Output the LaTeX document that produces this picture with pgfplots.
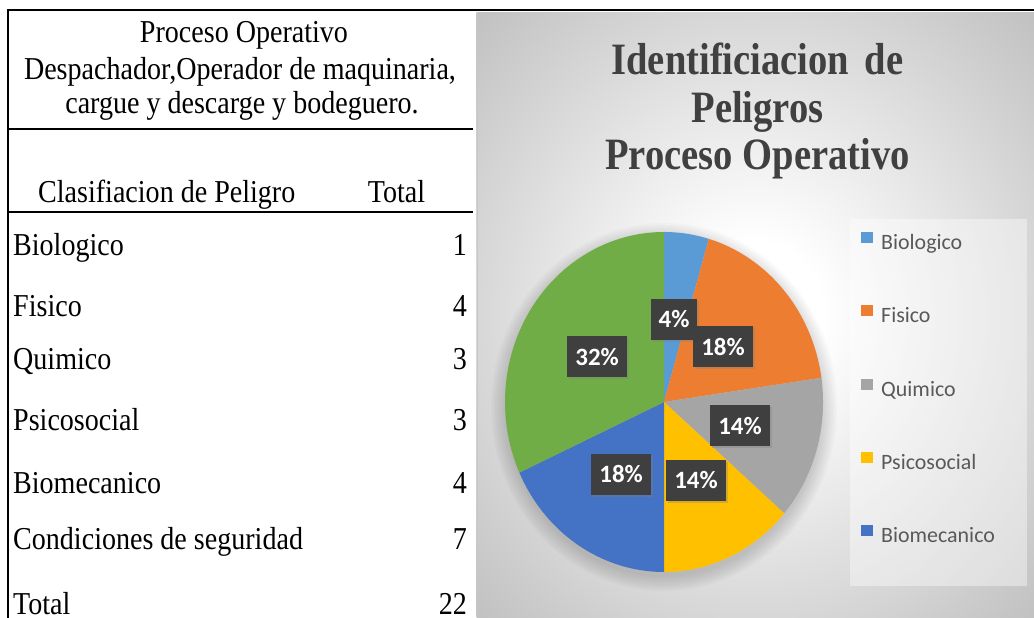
\documentclass[border=0pt]{standalone}
\usepackage{fontspec}
\usepackage{pgfplots}
\pgfplotsset{compat=1.18}
\usetikzlibrary{shadows}
\newfontfamily\tnr[FakeStretch=0.88]{Liberation Serif}
\newfontfamily\ttl[FakeStretch=0.86]{Liberation Serif}
\newfontfamily\carl{Carlito}
\definecolor{cBio}{HTML}{5B9BD5}
\definecolor{cFis}{HTML}{ED7D31}
\definecolor{cQui}{HTML}{A5A5A5}
\definecolor{cPsi}{HTML}{FFC000}
\definecolor{cBme}{HTML}{4472C4}
\definecolor{cCon}{HTML}{70AD47}
\definecolor{titlegray}{HTML}{404040}
\definecolor{leggray}{HTML}{595959}
\definecolor{lblgray}{HTML}{3F3F3F}
\pgfdeclareradialshading{chartbg}{\pgfpoint{0bp}{0bp}}{color(0bp)=(white); color(6bp)=(white); color(35bp)=(black!24); color(50bp)=(black!24)}
\newcommand{\pieslice}[3]{\addplot[fill=#3, draw=none, domain={90-360*(#1+#2)/22}:{90-360*(#1)/22}, samples=90, variable=\t] ({cos(\t)},{sin(\t)}) -- (axis cs:0,0) -- cycle;}
\begin{document}
\begin{tikzpicture}[
  lbl/.style={fill=lblgray, text=white, font=\carl\bfseries\fontsize{25}{25}\selectfont, minimum height=41bp, inner xsep=8bp, inner ysep=0pt, drop shadow={shadow xshift=2bp, shadow yshift=-2bp, opacity=0.35}}]
\begin{scope}[x=1bp,y=1bp]
\useasboundingbox (0,0) rectangle (1034,618);
% chart area background
\shade[shading=chartbg] (476.5,0) rectangle (1034,605.3);
\draw[black!22, line width=0.8bp] (476.9,0) -- (476.9,605.3);
% legend background
\fill[white, opacity=0.4] (850,32) rectangle (1027,399);
% soft pie shadow
\foreach \r in {16,14,12,10,8,6,4,2}{
  \fill[black, opacity=0.018] (664,211) ellipse [x radius=157+\r, y radius=168+\r];
}
% table lines
\draw[black, line width=2bp] (8,607.5) -- (1034,607.5);
\draw[black, line width=2bp] (8.3,608.5) -- (8.3,0);
\draw[black, line width=2bp] (8,489) -- (473,489);
\draw[black, line width=2bp] (8,406) -- (473,406);
% table text
\begin{scope}[every node/.style={inner sep=0pt, font=\tnr\fontsize{32}{36}\selectfont}]
\node[anchor=base] at (244,575.3) {Proceso Operativo};
\node[anchor=base] at (240,538.7) {Despachador,Operador de maquinaria,};
\node[anchor=base] at (242,504.7) {cargue y descarge y bodeguero.};
\node[anchor=base west] at (38,415) {Clasifiacion de Peligro};
\node[anchor=base] at (396.5,415) {Total};
\node[anchor=base west] at (13,362) {Biologico};
\node[anchor=base east] at (467,362) {1};
\node[anchor=base west] at (13,301.3) {Fisico};
\node[anchor=base east] at (467,301.3) {4};
\node[anchor=base west] at (13,248) {Quimico};
\node[anchor=base east] at (467,248) {3};
\node[anchor=base west] at (13,187.3) {Psicosocial};
\node[anchor=base east] at (467,187.3) {3};
\node[anchor=base west] at (13,124) {Biomecanico};
\node[anchor=base east] at (467,124) {4};
\node[anchor=base west] at (13,68) {Condiciones de seguridad};
\node[anchor=base east] at (467,68) {7};
\node[anchor=base west] at (13,3) {Total};
\node[anchor=base east] at (467,3) {22};
\end{scope}
% title
\begin{scope}[every node/.style={inner sep=0pt, text=titlegray, font=\ttl\bfseries\fontsize{45}{48}\selectfont}]
\node[anchor=base] at (757.5,543) {Identificiacion\hspace{0.35em}de};
\node[anchor=base] at (757.5,495) {Peligros};
\node[anchor=base] at (757.5,448) {Proceso Operativo};
\end{scope}
\end{scope}
\begin{axis}[
  at={(505bp,46bp)}, anchor=south west,
  scale only axis, width=318bp, height=340bp,
  xmin=-1, xmax=1, ymin=-1, ymax=1,
  hide axis, clip=false,
  legend image code/.code={\fill[#1] (0bp,1bp) rectangle (12bp,12bp);},
  legend cell align=left,
  legend style={at={(axis description cs:1.1195,1.0)}, anchor=north west,
    draw=none, fill=none, inner sep=0pt, row sep=50.7bp, column sep=8bp,
    font=\carl\fontsize{22}{26}\selectfont, text=leggray,
    nodes={inner sep=0pt, text height=16bp, text depth=5bp}},
]
\pieslice{0}{1}{cBio}
\addlegendentry{Biologico}
\pieslice{1}{4}{cFis}
\addlegendentry{Fisico}
\pieslice{5}{3}{cQui}
\addlegendentry{Quimico}
\pieslice{8}{3}{cPsi}
\addlegendentry{Psicosocial}
\pieslice{11}{4}{cBme}
\addlegendentry{Biomecanico}
\pieslice{15}{7}{cCon}
\node[lbl] at (axis cs:0.063,0.488) {4\%};
\node[lbl] at (axis cs:0.371,0.324) {18\%};
\node[lbl] at (axis cs:0.478,-0.141) {14\%};
\node[lbl] at (axis cs:0.201,-0.459) {14\%};
\node[lbl] at (axis cs:-0.270,-0.424) {18\%};
\node[lbl] at (axis cs:-0.421,0.265) {32\%};
\end{axis}
\end{tikzpicture}
\end{document}
